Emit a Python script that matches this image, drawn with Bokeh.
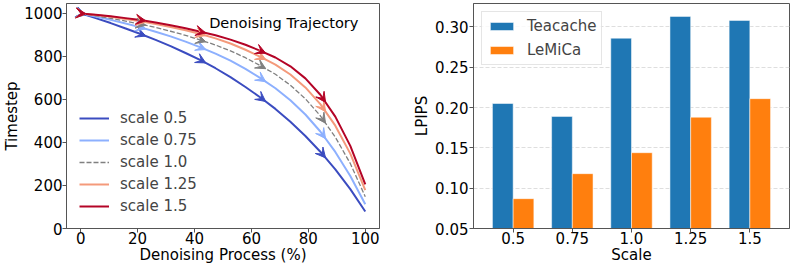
from bokeh.plotting import figure
from bokeh.layouts import row
from bokeh.models import (ColumnDataSource, Arrow, VeeHead, Legend, LegendItem, Label,
                          FixedTicker, FactorRange, Range1d, PrintfTickFormatter)
from bokeh.transform import dodge
from bokeh.embed import file_html
from bokeh.resources import INLINE

# ---------------- data ----------------
progress = [0, 5.26, 10.53, 15.79, 21.05, 26.32, 31.58, 36.84, 42.11, 47.37,
            52.63, 57.89, 63.16, 68.42, 73.68, 78.95, 84.21, 89.47, 94.74, 100]
arrow_idx = [0, 4, 8, 12, 16]
scale_names = ["scale 0.5", "scale 0.75", "scale 1.0", "scale 1.25", "scale 1.5"]
t_05 = [1000, 978, 955, 930, 904, 877, 848, 816, 783, 745,
        704, 658, 609, 556, 496, 430, 357, 275, 183, 79]
t_075 = [1000, 986, 970, 953, 935, 915, 893, 869, 842, 813,
         780, 742, 699, 652, 596, 530, 451, 356, 244, 113]
t_10 = [1000, 989, 977, 964, 950, 935, 917, 898, 876, 853,
        826, 794, 757, 717, 666, 603, 524, 425, 302, 148]
t_125 = [1000, 992, 984, 974, 963, 951, 937, 922, 904, 884,
         860, 831, 798, 762, 716, 656, 578, 478, 348, 178]
t_15 = [1000, 994, 987, 978, 969, 958, 945, 931, 915, 898,
        878, 854, 826, 795, 754, 698, 622, 520, 384, 205]
x_ticks = [0, 20, 40, 60, 80, 100]
y_ticks = [0, 200, 400, 600, 800, 1000]

scales = ["0.5", "0.75", "1.0", "1.25", "1.5"]
teacache = [0.205, 0.189, 0.286, 0.313, 0.308]
lemica = [0.087, 0.118, 0.144, 0.188, 0.211]
lpips_ticks = [0.05, 0.10, 0.15, 0.20, 0.25, 0.30]

FONT = "DejaVu Sans"
FS = "15px"
SPINE = "#555555"


def style_axes(p, ystand=1):
    for ax in (p.xaxis, p.yaxis):
        ax.axis_line_color = SPINE
        ax.major_tick_line_color = SPINE
        ax.minor_tick_line_color = None
        ax.major_tick_out = 4
        ax.major_tick_in = 0
        ax.major_label_text_font = FONT
        ax.major_label_text_font_size = FS
        ax.major_label_text_color = "black"
        ax.axis_label_text_font = FONT
        ax.axis_label_text_font_size = FS
        ax.axis_label_text_font_style = "normal"
        ax.axis_label_text_color = "black"
    p.yaxis.major_label_standoff = ystand
    p.yaxis.axis_label_standoff = ystand
    p.xaxis.major_label_standoff = -1
    p.xaxis.axis_label_standoff = -1
    p.outline_line_color = SPINE
    p.outline_line_width = 1


# ---------------- left: trajectories ----------------
p1 = figure(width=409, height=267, x_range=Range1d(-5, 105), y_range=Range1d(0, 1046),
            output_backend="svg", toolbar_location=None,
            min_border_left=63, min_border_right=30, min_border_top=3, min_border_bottom=39)
p1.grid.visible = False
p1.xaxis.ticker = FixedTicker(ticks=x_ticks)
p1.yaxis.ticker = FixedTicker(ticks=y_ticks)
p1.xaxis.axis_label = "Denoising Process (%)"
p1.yaxis.axis_label = "Timestep"
style_axes(p1, ystand=0)

series = [t_05, t_075, t_10, t_125, t_15]
colors = ["#3b4cc0", "#8db0fe", "#808080", "#f49a7b", "#b40426"]
dashes = ["solid", "solid", "5 2", "solid", "solid"]
widths = [2, 2, 1.3, 2, 2]
items = []
for name, ys, c, d, w in zip(scale_names, series, colors, dashes, widths):
    r = p1.line(progress, ys, line_color=c, line_width=w, line_dash=d)
    items.append(LegendItem(label=name, renderers=[r]))
    xs = [progress[k] for k in arrow_idx]
    yst = [ys[k] for k in arrow_idx]
    xe = [progress[k] + 0.35 * (progress[k + 1] - progress[k]) for k in arrow_idx]
    ye = [ys[k] + 0.35 * (ys[k + 1] - ys[k]) for k in arrow_idx]
    asrc = ColumnDataSource(dict(xs=xs, ys=yst, xe=xe, ye=ye))
    p1.add_layout(Arrow(end=VeeHead(size=10, fill_color=c, line_color=c, line_width=1),
                        x_start="xs", y_start="ys", x_end="xe", y_end="ye",
                        source=asrc, line_alpha=0))

leg1 = Legend(items=items, location=(13, 12), padding=0, margin=0,
              border_line_alpha=0, background_fill_alpha=0,
              glyph_width=30, glyph_height=20, label_height=20, spacing=2,
              label_standoff=11, label_text_font=FONT, label_text_font_size=FS)
p1.add_layout(leg1)

p1.add_layout(Label(x=97.6, y=958, text="Denoising Trajectory", text_align="right",
                    text_baseline="middle", text_font=FONT, text_font_size="14.6px",
                    text_color="black"))

# ---------------- right: LPIPS bars ----------------
p2 = figure(width=384, height=267,
            x_range=FactorRange(factors=scales, range_padding=0.17, range_padding_units="absolute"),
            y_range=Range1d(0.05, 0.329),
            output_backend="svg", toolbar_location=None,
            min_border_left=64, min_border_right=4, min_border_top=3, min_border_bottom=39)
p2.xgrid.visible = False
p2.ygrid.grid_line_color = "#dedede"
p2.ygrid.grid_line_dash = "4 2"
p2.yaxis.ticker = FixedTicker(ticks=lpips_ticks)
p2.yaxis.formatter = PrintfTickFormatter(format="%.2f")
p2.xaxis.axis_label = "Scale"
p2.yaxis.axis_label = "LPIPS"
style_axes(p2, ystand=1)

src = ColumnDataSource(dict(scale=scales, teacache=teacache, lemica=lemica))
r_t = p2.vbar(x=dodge("scale", -0.175, range=p2.x_range), top="teacache", bottom=0,
              width=0.35, source=src, fill_color="#1f77b4", line_color="white", line_alpha=0.5)
r_l = p2.vbar(x=dodge("scale", 0.175, range=p2.x_range), top="lemica", bottom=0,
              width=0.35, source=src, fill_color="#ff7f0e", line_color="white", line_alpha=0.5)

leg2 = Legend(items=[LegendItem(label="Teacache", renderers=[r_t]),
                     LegendItem(label="LeMiCa", renderers=[r_l])],
              location="top_left", margin=8, padding=5,
              border_line_color="#cccccc", border_line_width=1,
              background_fill_color="white", background_fill_alpha=0.8,
              glyph_width=29, glyph_height=10, label_height=16, spacing=6,
              label_standoff=11, label_text_font=FONT, label_text_font_size=FS)
p2.add_layout(leg2)

layout = row(p1, p2)
open("out.html", "w").write(file_html(layout, INLINE))
